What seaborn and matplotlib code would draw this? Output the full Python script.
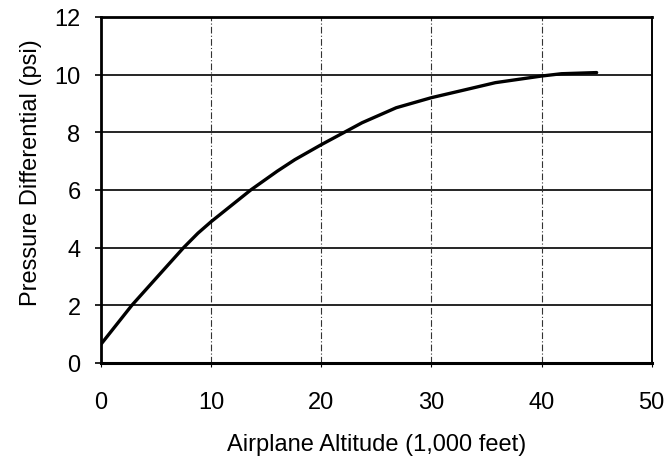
import matplotlib
matplotlib.use("Agg")
import matplotlib.pyplot as plt
import seaborn as sns
import pandas as pd

# Cabin pressure differential versus airplane altitude
altitude = [0, 2.8, 5.5, 7.5, 8.8, 10, 13.6, 16, 17.6, 20, 22, 23.7, 26.8,
            30, 32.8, 35.8, 40, 41.8, 45]
pressure_diff = [0.65, 2.0, 3.15, 4.0, 4.5, 4.9, 6.0, 6.65, 7.05, 7.57, 7.98,
                 8.33, 8.85, 9.2, 9.45, 9.72, 9.95, 10.03, 10.07]
x_ticks = [0, 10, 20, 30, 40, 50]
y_ticks = [0, 2, 4, 6, 8, 10, 12]

df = pd.DataFrame({"altitude": altitude, "pressure": pressure_diff})

sns.set_theme(style="white")
plt.rcParams["font.family"] = ["Liberation Sans", "DejaVu Sans"]

fig = plt.figure(figsize=(6.65, 4.6), dpi=100)
ax = fig.add_axes([0.152, 0.209, 0.828, 0.752])

# horizontal grid: solid; vertical grid: dash-dot
for yv in y_ticks[1:-1]:
    ax.axhline(yv, color="black", lw=1.2, zorder=1)
for xv in x_ticks[1:-1]:
    ax.axvline(xv, color="#333333", lw=0.8, ls=(0, (6, 2, 1, 2)), zorder=1)

sns.lineplot(data=df, x="altitude", y="pressure", ax=ax, color="black",
             linewidth=2.4, zorder=3)

ax.set_xlim(0, 50)
ax.set_ylim(0, 12)
ax.set_xticks(x_ticks)
ax.set_yticks(y_ticks)
ax.tick_params(axis="x", labelsize=17, pad=17, length=3, width=0.8,
               direction="out", bottom=True, colors="black")
ax.tick_params(axis="y", labelsize=17, pad=10.5, length=4.3, width=1.2,
               direction="out", left=True, colors="black")
ax.set_xlabel("Airplane Altitude (1,000 feet)", fontsize=17, color="black")
ax.set_ylabel("Pressure Differential (psi)", fontsize=17, color="black")
ax.xaxis.set_label_coords(0.5, -0.203)
ax.yaxis.set_label_coords(-0.108, 0.552)

for side, w in [("left", 2.0), ("bottom", 2.2), ("top", 2.0), ("right", 1.4)]:
    ax.spines[side].set_visible(True)
    ax.spines[side].set_color("black")
    ax.spines[side].set_linewidth(w)

fig.savefig("out.png", dpi=100, facecolor="white")
